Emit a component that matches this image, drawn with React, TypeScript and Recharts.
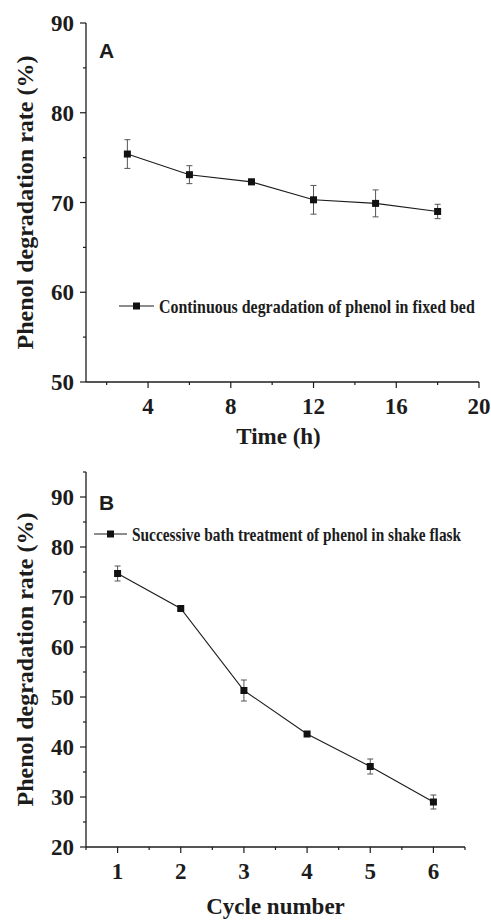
import React from "react";
import { ErrorBar, Label, Legend, Line, LineChart, XAxis, YAxis } from "recharts";

// Panel A: continuous degradation in fixed bed
const timeHours = [3, 6, 9, 12, 15, 18];
const fixedBedRate = [75.4, 73.1, 72.3, 70.3, 69.9, 69.0];
const fixedBedErr = [1.6, 1.0, 0.3, 1.6, 1.5, 0.8];
const timeTicks = [2, 4, 6, 8, 10, 12, 14, 16, 18, 20];
const timeMajor = [4, 8, 12, 16, 20];
const rateTicksA = [50, 55, 60, 65, 70, 75, 80, 85, 90];
const rateMajorA = [50, 60, 70, 80, 90];

// Panel B: successive batch treatment in shake flask
const cycleNumbers = [1, 2, 3, 4, 5, 6];
const shakeFlaskRate = [74.7, 67.7, 51.3, 42.6, 36.1, 29.0];
const shakeFlaskErr = [1.5, 0.4, 2.1, 0.4, 1.5, 1.4];
const cycleTicks = [0.5, 1, 1.5, 2, 2.5, 3, 3.5, 4, 4.5, 5, 5.5, 6, 6.5];
const cycleMajor = [1, 2, 3, 4, 5, 6];
const rateTicksB = [20, 25, 30, 35, 40, 45, 50, 55, 60, 65, 70, 75, 80, 85, 90, 95];
const rateMajorB = [20, 30, 40, 50, 60, 70, 80, 90];

const SERIF = "'Liberation Serif', 'Times New Roman', serif";
const SANS = "'Liberation Sans', Arial, sans-serif";
const INK = "#1c1c1c";

const fixedBedData = timeHours.map((x, i) => ({ x, rate: fixedBedRate[i], err: fixedBedErr[i] }));
const shakeFlaskData = cycleNumbers.map((x, i) => ({ x, rate: shakeFlaskRate[i], err: shakeFlaskErr[i] }));

function makeXTick(majors: number[]) {
  return (props: any) => {
    const { x, y, payload } = props;
    const major = majors.includes(payload.value);
    return (
      <g>
        <line x1={x} y1={y} x2={x} y2={y + (major ? 6 : 3)} stroke={INK} strokeWidth={1.2} />
        {major && (
          <text x={x} y={y + 31.5} textAnchor="middle" fontFamily={SERIF} fontWeight="bold" fontSize={23} fill={INK}>
            {payload.value}
          </text>
        )}
      </g>
    );
  };
}

function makeYTick(majors: number[]) {
  return (props: any) => {
    const { x, y, payload } = props;
    const major = majors.includes(payload.value);
    return (
      <g>
        <line x1={x} y1={y} x2={x - (major ? 6 : 3)} y2={y} stroke={INK} strokeWidth={1.2} />
        {major && (
          <text x={x - 12} y={y + 8} textAnchor="end" fontFamily={SERIF} fontWeight="bold" fontSize={23} fill={INK}>
            {payload.value}
          </text>
        )}
      </g>
    );
  };
}

const SquareDot = (props: any) => {
  const { cx, cy } = props;
  if (cx == null || cy == null) return null;
  return <rect x={cx - 3.5} y={cy - 3.5} width={7} height={7} fill="#111" />;
};

// legend text is narrow in the original, so squeeze it horizontally
function makeLegend(label: string, lineLen: number, textLen: number, squeeze: number) {
  const tx = 12 + lineLen;
  return () => (
    <svg width={tx + textLen + 8} height={28} style={{ display: "block", overflow: "visible" }}>
      <line x1={7} y1={14} x2={7 + lineLen} y2={14} stroke={INK} strokeWidth={1.2} />
      <rect x={7 + lineLen / 2 - 3.5} y={10.5} width={7} height={7} fill="#111" />
      <text
        x={0}
        y={0}
        transform={`translate(${tx} 21.3) scale(${squeeze} 1)`}
        fontFamily={SERIF}
        fontWeight="bold"
        fontSize={18}
        fill={INK}
      >
        {label}
      </text>
    </svg>
  );
}

type PanelProps = {
  data: { x: number; rate: number; err: number }[];
  height: number;
  margin: { top: number; right: number; bottom: number; left: number };
  xAxisHeight: number;
  xDomain: [number, number];
  xTicks: number[];
  xMajor: number[];
  yDomain: [number, number];
  yTicks: number[];
  yMajor: number[];
  xTitle: string;
  xTitleDx: number;
  xTitleDy: number;
  letter: string;
  letterTop: number;
  legendLabel: string;
  legendLeft: number;
  legendTop: number;
  legendLine: number;
  legendText: number;
  legendSqueeze: number;
};

function Panel(p: PanelProps) {
  return (
    <div style={{ position: "relative", width: 491, height: p.height }}>
      <LineChart width={491} height={p.height} data={p.data} margin={p.margin}>
        <XAxis
          type="number"
          dataKey="x"
          domain={p.xDomain}
          ticks={p.xTicks}
          interval={0}
          allowDataOverflow
          height={p.xAxisHeight}
          tickSize={0}
          tickMargin={0}
          tickLine={false}
          axisLine={{ stroke: INK, strokeWidth: 1.3 }}
          tick={makeXTick(p.xMajor)}
        >
          <Label
            value={p.xTitle}
            position="center"
            dx={p.xTitleDx}
            dy={p.xTitleDy}
            style={{ fontFamily: SERIF, fontWeight: "bold", fontSize: 23, fill: INK }}
          />
        </XAxis>
        <XAxis
          xAxisId="top"
          orientation="top"
          type="number"
          dataKey="x"
          domain={p.xDomain}
          height={0}
          tick={false}
          tickLine={false}
          axisLine={{ stroke: INK, strokeWidth: 1.3 }}
        />
        <YAxis
          type="number"
          domain={p.yDomain}
          ticks={p.yTicks}
          interval={0}
          allowDataOverflow
          width={86}
          tickSize={0}
          tickMargin={0}
          tickLine={false}
          axisLine={{ stroke: INK, strokeWidth: 1.3 }}
          tick={makeYTick(p.yMajor)}
        >
          <Label
            value="Phenol degradation rate (%)"
            angle={-90}
            position="center"
            dx={-19}
            style={{ fontFamily: SERIF, fontWeight: "bold", fontSize: 24, fill: INK, textAnchor: "middle" }}
          />
        </YAxis>
        <YAxis
          yAxisId="right"
          orientation="right"
          type="number"
          domain={p.yDomain}
          width={0}
          tick={false}
          tickLine={false}
          axisLine={{ stroke: INK, strokeWidth: 1.3 }}
        />
        <Legend
          layout="horizontal"
          verticalAlign="middle"
          align="center"
          content={makeLegend(p.legendLabel, p.legendLine, p.legendText, p.legendSqueeze)}
          wrapperStyle={{ position: "absolute", left: p.legendLeft, top: p.legendTop, width: "auto", height: 28 }}
        />
        <Line
          type="linear"
          dataKey="rate"
          name={p.legendLabel}
          stroke={INK}
          strokeWidth={1.1}
          dot={<SquareDot />}
          activeDot={false}
          isAnimationActive={false}
        >
          <ErrorBar dataKey="err" direction="y" width={3} stroke="#555" strokeWidth={1} isAnimationActive={false} />
        </Line>
      </LineChart>
      <div
        style={{
          position: "absolute",
          left: 99,
          top: p.letterTop,
          fontFamily: SANS,
          fontWeight: "bold",
          fontSize: 21,
          lineHeight: "21px",
          color: INK,
        }}
      >
        {p.letter}
      </div>
    </div>
  );
}

export default function App() {
  return (
    <div style={{ position: "absolute", left: 0, top: 0, width: 491, height: 922, background: "#fff" }}>
      <Panel
        data={fixedBedData}
        height={460}
        margin={{ top: 23, right: 12, bottom: 0, left: 0 }}
        xAxisHeight={78}
        xDomain={[1, 20]}
        xTicks={timeTicks}
        xMajor={timeMajor}
        yDomain={[50, 90]}
        yTicks={rateTicksA}
        yMajor={rateMajorA}
        xTitle="Time (h)"
        xTitleDx={-4}
        xTitleDy={15}
        letter="A"
        letterTop={40}
        legendLabel="Continuous degradation of phenol in fixed bed"
        legendLeft={112}
        legendTop={292}
        legendLine={35}
        legendText={316}
        legendSqueeze={0.885}
      />
      <Panel
        data={shakeFlaskData}
        height={462}
        margin={{ top: 12, right: 26, bottom: 0, left: 0 }}
        xAxisHeight={75}
        xDomain={[0.5, 6.5]}
        xTicks={cycleTicks}
        xMajor={cycleMajor}
        yDomain={[20, 95]}
        yTicks={rateTicksB}
        yMajor={rateMajorB}
        xTitle="Cycle number"
        xTitleDx={0}
        xTitleDy={21}
        letter="B"
        letterTop={32}
        legendLabel="Successive bath treatment of phenol in shake flask"
        legendLeft={87}
        legendTop={60}
        legendLine={33}
        legendText={329}
        legendSqueeze={0.855}
      />
    </div>
  );
}
